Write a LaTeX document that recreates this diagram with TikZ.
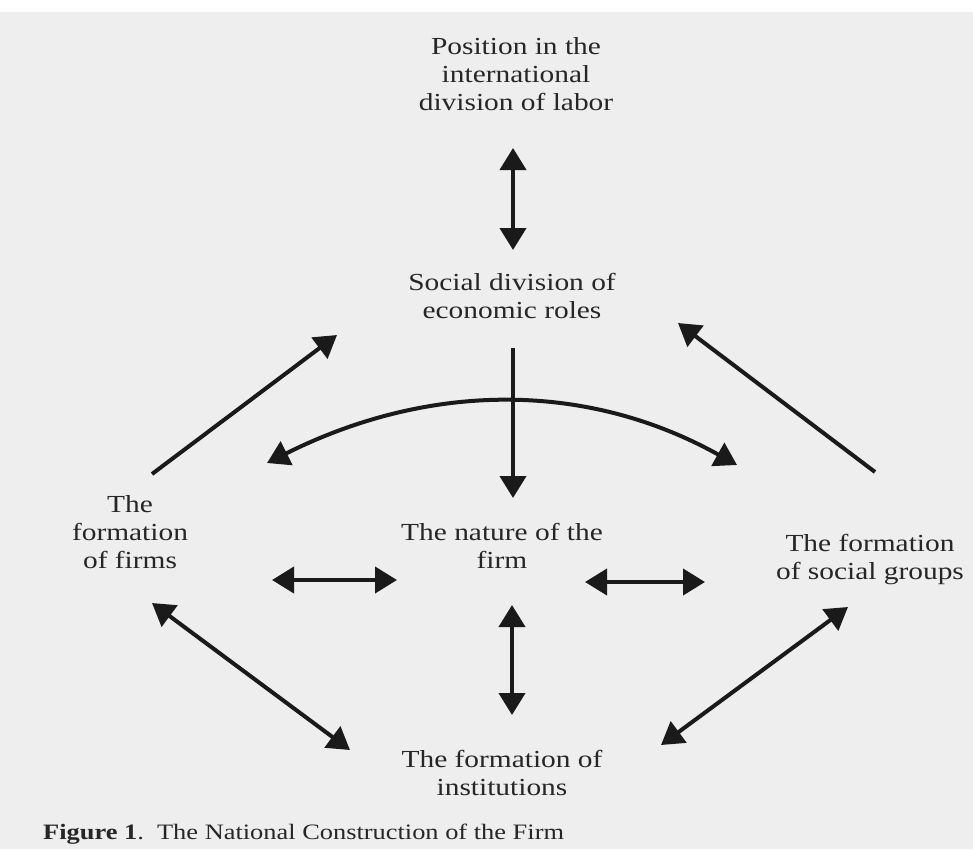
\documentclass[tikz,border=0pt]{standalone}
\usepackage{fontspec}
\setmainfont{Liberation Serif}[FakeStretch=1.2]
\usetikzlibrary{arrows.meta}
\definecolor{bg}{RGB}{238,238,238}
\definecolor{ink}{RGB}{38,38,38}
\definecolor{arr}{RGB}{26,26,26}
\newcommand\mlines[1]{\begin{tabular}[t]{@{}c@{}}#1\end{tabular}}
\begin{document}
\begin{tikzpicture}[x=1pt,y=-1pt,
  lbl/.style={anchor=base, inner sep=0pt, text=ink, font=\fontsize{24.5}{28}\selectfont},
  tip/.tip={Triangle[length=22pt,width=26pt]},
  conn/.style={draw=arr, line width=4pt, -tip},
  dconn/.style={draw=arr, line width=4pt, tip-tip},
]
\fill[bg] (0,0) rectangle (973,849);
\fill[white] (0,0) rectangle (973,12);
\useasboundingbox (0,0) rectangle (973,849);

% labels
\node[lbl] (top) at (516,54) {\mlines{Position in the\\international\\division of labor}};
\node[lbl] (soc) at (512,290) {\mlines{Social division of\\economic roles}};
\node[lbl] (firms) at (130,512) {\mlines{The\\formation\\of firms}};
\node[lbl] (nat) at (502,540) {\mlines{The nature of the\\firm}};
\node[lbl] (grp) at (870,551) {\mlines{The formation\\of social groups}};
\node[lbl] (inst) at (502,767) {\mlines{The formation of\\institutions}};
\node[anchor=base west, inner sep=0pt, text=ink, font=\fontsize{22}{26}\selectfont] (cap) at (43,839)
  {\textbf{Figure 1}.\ \ The National Construction of the Firm};

% arrow end points
\coordinate (a1s) at (513,148); \coordinate (a1e) at (513,250);
\coordinate (a2s) at (513,348); \coordinate (a2e) at (513,498);
\coordinate (a3s) at (267,463); \coordinate (a3e) at (737,465);
\coordinate (a4s) at (152,474); \coordinate (a4e) at (337,335);
\coordinate (a5s) at (875,472); \coordinate (a5e) at (678,323);
\coordinate (a6s) at (272,580); \coordinate (a6e) at (397,580);
\coordinate (a7s) at (585,582); \coordinate (a7e) at (705,582);
\coordinate (a8s) at (512,605); \coordinate (a8e) at (512,715);
\coordinate (a9s) at (152,603); \coordinate (a9e) at (350,750);
\coordinate (a10s) at (848,607); \coordinate (a10e) at (661,745);

% connectors
\draw[dconn] (a1s) -- (a1e);
\draw[conn] (a2s) -- (a2e);
\draw[dconn] (a3s) .. controls (431,381) and (588,382) .. (a3e);
\draw[conn] (a4s) -- (a4e);
\draw[conn] (a5s) -- (a5e);
\draw[dconn] (a6s) -- (a6e);
\draw[dconn] (a7s) -- (a7e);
\draw[dconn] (a8s) -- (a8e);
\draw[dconn] (a9s) -- (a9e);
\draw[dconn] (a10s) -- (a10e);
\end{tikzpicture}
\end{document}
